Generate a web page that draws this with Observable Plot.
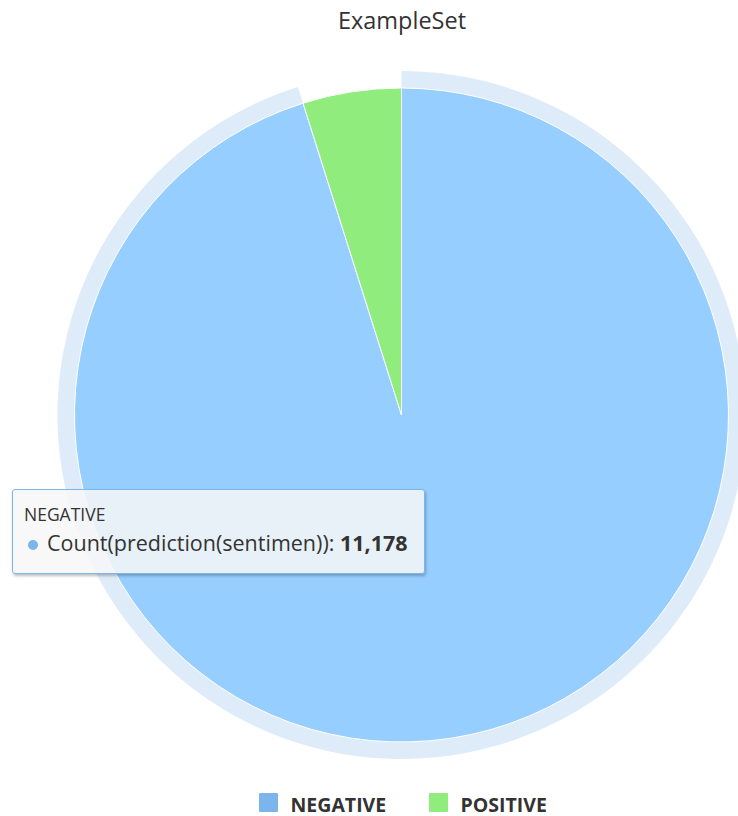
<!DOCTYPE html>
<html><head><meta charset="utf-8">
<script src="https://cdn.jsdelivr.net/npm/d3@7"></script>
<script src="https://cdn.jsdelivr.net/npm/@observablehq/plot@0.6"></script>
<style>
body{margin:0;background:#fff;font-family:"Open Sans","DejaVu Sans",sans-serif;color:#333;}
#wrap{position:relative;width:738px;height:816px;overflow:hidden;}
#title{position:absolute;left:0;top:4px;width:804px;text-align:center;font-size:23.5px;line-height:32px;color:#333;}
#chart{position:absolute;left:0;top:40px;}
#tip{position:absolute;left:12px;top:489px;width:411px;height:83px;background:rgba(247,247,247,0.85);border:1.5px solid #7cb5ec;border-radius:3px;box-shadow:1px 2px 3px rgba(0,0,0,0.25);}
#tip .h{position:absolute;left:11px;top:11.5px;font-size:17.5px;line-height:24px;}
#tip .r{position:absolute;left:34px;top:37.5px;font-size:21.5px;line-height:29px;white-space:nowrap;}
#tip .dot{position:absolute;left:15px;top:50px;width:10px;height:10px;border-radius:50%;}
.lg{position:absolute;top:793px;width:19px;height:19px;border-radius:1px;}
.lt{position:absolute;top:793.5px;font-size:19.5px;font-weight:bold;line-height:22px;color:#333;}
</style></head>
<body><div id="wrap"><div id="title"></div><div id="chart"></div></div>
<script>
// ---- data ----
const title = "ExampleSet";
const labels = ["NEGATIVE", "POSITIVE"];
const counts = [11178, 572];
const colors = ["#7cb5ec", "#90ed7d"];
const seriesName = "Count(prediction(sentimen))";
const hovered = "NEGATIVE";

// ---- layout ----
const W = 738, H = 740;
const cxPx = 401.5, cyPx = 375, Rpx = 327;
const haloOuter = 344 / 327;

const rows = labels.map((label, i) => ({label, count: counts[i]}));
const arcs = d3.pie().sort(null).value(d => d.count)(rows);
const brighten = c => { const q = d3.rgb(c); return d3.rgb(Math.min(255, q.r + 25.5), Math.min(255, q.g + 25.5), Math.min(255, q.b + 25.5)).formatHex(); };
const sliceColors = labels.map((l, i) => l === hovered ? brighten(colors[i]) : colors[i]);
const hi = labels.indexOf(hovered);

function arcMark(data, {inner, outer, opacity = 1, stroke = null, fixedFill = null}) {
  return Plot.dot(data, {
    x: () => 0, y: () => 0, fill: d => d.data.label,
    render(index, scales, values, dims, context) {
      const x0 = scales.x(0), y0 = scales.y(0), k = scales.x(1) - scales.x(0);
      const arc = d3.arc().innerRadius(inner * k).outerRadius(outer * k);
      const g = d3.select(context.document.createElementNS("http://www.w3.org/2000/svg", "g"))
        .attr("transform", `translate(${x0},${y0})`);
      g.selectAll("path").data(Array.from(index)).join("path")
        .attr("d", i => arc(data[i]))
        .attr("fill", i => fixedFill || values.fill[i])
        .attr("fill-opacity", opacity)
        .attr("stroke", stroke)
        .attr("stroke-width", stroke ? 1 : null)
        .attr("stroke-linejoin", "round");
      return g.node();
    }
  });
}

const haloArcs = arcs.filter(a => a.data.label === hovered);
const plot = Plot.plot({
  width: W, height: H, margin: 0,
  x: {domain: [-cxPx / Rpx, (W - cxPx) / Rpx], axis: null},
  y: {domain: [(cyPx - H) / Rpx, cyPx / Rpx], axis: null},
  color: {domain: labels, range: sliceColors},
  marks: [
    arcMark(haloArcs, {inner: 1, outer: haloOuter, opacity: 0.25, fixedFill: colors[hi]}),
    arcMark(arcs, {inner: 0, outer: 1, stroke: "#ffffff"})
  ]
});
document.getElementById("chart").appendChild(plot);
document.getElementById("title").textContent = title;

// legend
const wrap = document.getElementById("wrap");
const legendX = [259, 429];
labels.forEach((l, i) => {
  const s = document.createElement("div"); s.className = "lg"; s.style.left = legendX[i] + "px"; s.style.background = colors[i]; wrap.appendChild(s);
  const t = document.createElement("div"); t.className = "lt"; t.style.left = (legendX[i] + 31.5) + "px"; t.textContent = l; wrap.appendChild(t);
});

// tooltip
const tip = document.createElement("div"); tip.id = "tip";
const h = document.createElement("div"); h.className = "h"; h.textContent = labels[hi]; tip.appendChild(h);
const dot = document.createElement("div"); dot.className = "dot"; dot.style.background = colors[hi]; tip.appendChild(dot);
const r = document.createElement("div"); r.className = "r";
r.appendChild(document.createTextNode(seriesName + ": "));
const b = document.createElement("b"); b.textContent = d3.format(",")(counts[hi]); r.appendChild(b);
tip.appendChild(r);
wrap.appendChild(tip);
</script></body></html>
